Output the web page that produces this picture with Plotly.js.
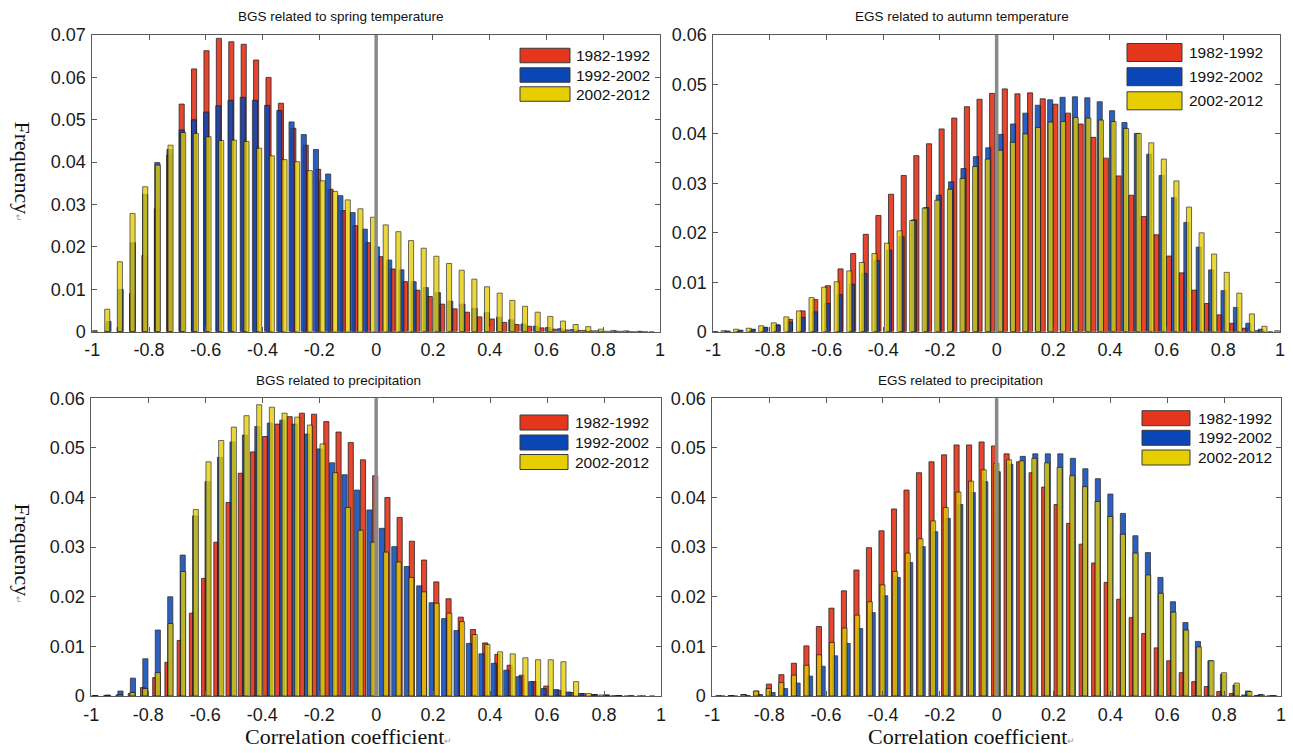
<!DOCTYPE html>
<html>
<head>
<meta charset="utf-8">
<script src="https://cdn.plot.ly/plotly-3.0.1.min.js"></script>
<style>
  html, body { margin: 0; padding: 0; background: #ffffff; }
  #chart { width: 1293px; height: 753px; }
</style>
</head>
<body>
<div id="chart"></div>
<script>
// ---- shared labels ----
const periods = ['1982-1992', '1992-2002', '2002-2012'];
const panelTitles = [
  'BGS related to spring temperature',
  'EGS related to autumn temperature',
  'BGS related to precipitation',
  'EGS related to precipitation'
];
const xTickVals = [-1, -0.8, -0.6, -0.4, -0.2, 0, 0.2, 0.4, 0.6, 0.8, 1];
const xTickText = ['-1', '-0.8', '-0.6', '-0.4', '-0.2', '0', '0.2', '0.4', '0.6', '0.8', '1'];
const yTickVals7 = [0, 0.01, 0.02, 0.03, 0.04, 0.05, 0.06, 0.07];
const yTickText7 = ['0', '0.01', '0.02', '0.03', '0.04', '0.05', '0.06', '0.07'];
const yTickVals6 = [0, 0.01, 0.02, 0.03, 0.04, 0.05, 0.06];
const yTickText6 = ['0', '0.01', '0.02', '0.03', '0.04', '0.05', '0.06'];

// ---- BGS vs spring temperature: frequency per bin, one array per period ----
const bgsSpringFirstBin = [-0.991, -0.943, -0.992];   // centre of the first bin
const bgsSpringBinWidth = [0.0437, 0.0430, 0.0446];
const bgsSpring1982 = [0, 0.0002, 0.001, 0.009, 0.018, 0.029, 0.0417, 0.0537, 0.062, 0.0663, 0.0692, 0.0684, 0.0678, 0.0641, 0.060, 0.0539, 0.048, 0.044, 0.0383, 0.0336, 0.0286, 0.025, 0.021, 0.0177, 0.0148, 0.0118, 0.0098, 0.0083, 0.0065, 0.0054, 0.0046, 0.0035, 0.003, 0.0022, 0.0017, 0.0013, 0.0009, 0.0006, 0.0004, 0.0003, 0.0002, 0.0001, 0.0001, 0, 0];
const bgsSpring1992 = [0.0024, 0.010, 0.021, 0.0324, 0.0399, 0.043, 0.0476, 0.050, 0.0518, 0.0533, 0.0546, 0.0553, 0.0546, 0.0534, 0.0522, 0.0495, 0.0465, 0.043, 0.0372, 0.0321, 0.0281, 0.0242, 0.020, 0.0169, 0.0146, 0.0118, 0.0104, 0.0092, 0.0072, 0.0065, 0.0055, 0.0045, 0.0034, 0.0028, 0.0018, 0.0013, 0.001, 0.0007, 0.0005, 0.0003, 0.0002, 0.0001, 0.0001, 0, 0];
const bgsSpring2002 = [0.0003, 0.0053, 0.0165, 0.0279, 0.0342, 0.0393, 0.044, 0.047, 0.0468, 0.046, 0.0451, 0.0452, 0.0449, 0.0433, 0.0415, 0.0406, 0.0401, 0.038, 0.0356, 0.0331, 0.0311, 0.029, 0.027, 0.0252, 0.0236, 0.0215, 0.0197, 0.0178, 0.0161, 0.0145, 0.0124, 0.0106, 0.0091, 0.0074, 0.006, 0.0046, 0.0036, 0.0025, 0.0017, 0.0012, 0.0006, 0.0003, 0.0002, 0.0001, 0];

// ---- EGS vs autumn temperature ----
const egsAutumnFirstBin = [-0.997, -0.991, -0.964];
const egsAutumnBinWidth = [0.0446, 0.0437, 0.0444];
const egsAutumn1982 = [0, 0.0001, 0.0002, 0.0004, 0.0008, 0.0014, 0.0025, 0.0042, 0.0065, 0.0093, 0.0127, 0.0158, 0.0197, 0.0235, 0.0278, 0.0316, 0.0356, 0.038, 0.041, 0.0432, 0.0455, 0.047, 0.0482, 0.0491, 0.0481, 0.0483, 0.0471, 0.046, 0.0442, 0.042, 0.0393, 0.0351, 0.0315, 0.0276, 0.0233, 0.0196, 0.0153, 0.0119, 0.0084, 0.0057, 0.0034, 0.0017, 0.0007, 0.0002, 0];
const egsAutumn1992 = [0, 0.0001, 0.0003, 0.0005, 0.0009, 0.0013, 0.0019, 0.0029, 0.004, 0.0057, 0.0075, 0.0096, 0.0118, 0.0144, 0.0165, 0.0192, 0.0226, 0.0251, 0.0276, 0.0303, 0.033, 0.0354, 0.0372, 0.0399, 0.042, 0.0442, 0.0458, 0.0469, 0.0474, 0.0475, 0.0473, 0.0465, 0.0447, 0.0423, 0.0401, 0.0359, 0.0316, 0.0271, 0.0221, 0.0171, 0.0125, 0.0083, 0.0049, 0.0017, 0.0005];
const egsAutumn2002 = [0.0002, 0.0005, 0.0007, 0.0012, 0.0018, 0.003, 0.0042, 0.0069, 0.009, 0.0101, 0.0123, 0.014, 0.0158, 0.0179, 0.0204, 0.0225, 0.025, 0.0266, 0.0288, 0.031, 0.0334, 0.0349, 0.0367, 0.0383, 0.040, 0.0413, 0.0424, 0.0425, 0.0433, 0.0432, 0.0428, 0.0425, 0.0411, 0.0401, 0.0382, 0.0349, 0.0305, 0.0252, 0.020, 0.0157, 0.012, 0.0078, 0.0036, 0.0011, 0.0002];

// ---- BGS vs precipitation ----
const bgsPrecipFirstBin = [-0.990, -0.985, -0.989];
const bgsPrecipBinWidth = [0.0429, 0.0437, 0.0445];
const bgsPrecip1982 = [0, 0.0001, 0.0002, 0.0005, 0.0017, 0.0037, 0.0068, 0.0112, 0.0167, 0.0237, 0.031, 0.039, 0.0449, 0.0492, 0.0523, 0.0548, 0.0563, 0.057, 0.0568, 0.0553, 0.0532, 0.0511, 0.0476, 0.0444, 0.040, 0.036, 0.0312, 0.0274, 0.023, 0.0196, 0.0159, 0.0134, 0.0107, 0.0084, 0.0062, 0.0042, 0.0029, 0.002, 0.0011, 0.0007, 0.0005, 0.0003, 0.0002, 0.0001, 0];
const bgsPrecip1992 = [0.0001, 0.0002, 0.001, 0.0036, 0.0075, 0.0133, 0.020, 0.0284, 0.0363, 0.0432, 0.0481, 0.0512, 0.0526, 0.0543, 0.055, 0.0556, 0.0548, 0.0528, 0.0498, 0.047, 0.0446, 0.0415, 0.0375, 0.0338, 0.0301, 0.0261, 0.0222, 0.0188, 0.0156, 0.0132, 0.0106, 0.0085, 0.0066, 0.0052, 0.0039, 0.0029, 0.0015, 0.0013, 0.0008, 0.0005, 0.0003, 0.0002, 0.0001, 0, 0];
const bgsPrecip2002 = [0, 0.0001, 0.0003, 0.0007, 0.0015, 0.0047, 0.0146, 0.0251, 0.0376, 0.0472, 0.0515, 0.0542, 0.0565, 0.0587, 0.0582, 0.057, 0.0562, 0.0546, 0.0508, 0.045, 0.038, 0.0334, 0.031, 0.029, 0.027, 0.0239, 0.021, 0.0187, 0.0167, 0.015, 0.0124, 0.0104, 0.0089, 0.0085, 0.0077, 0.0073, 0.0073, 0.0069, 0.0029, 0.0005, 0.0002, 0.0001, 0, 0, 0];

// ---- EGS vs precipitation ----
const egsPrecipFirstBin = [-0.977, -0.964, -0.980];
const egsPrecipBinWidth = [0.0440, 0.0440, 0.0445];
const egsPrecip1982 = [0, 0.0001, 0.0003, 0.001, 0.0024, 0.0043, 0.0066, 0.0101, 0.014, 0.0177, 0.0212, 0.0254, 0.0299, 0.0333, 0.0377, 0.0415, 0.045, 0.0472, 0.0486, 0.0506, 0.0506, 0.0512, 0.0504, 0.0488, 0.0472, 0.045, 0.0421, 0.0386, 0.0348, 0.0306, 0.0268, 0.0229, 0.0195, 0.0158, 0.0126, 0.0097, 0.0071, 0.0047, 0.0029, 0.0019, 0.0009, 0.0005, 0.0002, 0.0001, 0];
const egsPrecip1992 = [0, 0, 0.0001, 0.0003, 0.0007, 0.0015, 0.0026, 0.004, 0.006, 0.0081, 0.0106, 0.0136, 0.0168, 0.0202, 0.0239, 0.0269, 0.0301, 0.0331, 0.0358, 0.0386, 0.041, 0.0432, 0.0452, 0.0467, 0.0483, 0.0488, 0.0488, 0.0488, 0.0479, 0.0458, 0.0438, 0.0407, 0.0368, 0.0323, 0.0289, 0.0239, 0.019, 0.0148, 0.011, 0.0071, 0.0044, 0.0022, 0.001, 0.0003, 0.0001];
const egsPrecip2002 = [0, 0.0001, 0.0003, 0.001, 0.0015, 0.0027, 0.0042, 0.0062, 0.0083, 0.0108, 0.0137, 0.0163, 0.019, 0.0224, 0.0251, 0.0288, 0.0317, 0.0353, 0.038, 0.0411, 0.0433, 0.0456, 0.0469, 0.0476, 0.0474, 0.0479, 0.047, 0.0461, 0.0444, 0.0422, 0.0392, 0.0362, 0.0326, 0.0288, 0.0244, 0.0207, 0.0169, 0.0133, 0.0099, 0.0071, 0.0047, 0.0026, 0.0009, 0.0002, 0];

// ---- figure geometry (pixels) and styling ----
const W = 1293, H = 753;
const fx = p => p / W;          // pixel column -> paper fraction
const fy = p => 1 - p / H;      // pixel row -> paper fraction

const periodColors = ['#E4361D', '#0A46B6', '#E6CE00'];
const periodOpacity = [0.92, 0.86, 0.78];
const barWidth = 0.018;

const panels = [
  { series: [bgsSpring1982, bgsSpring1992, bgsSpring2002], first: bgsSpringFirstBin, step: bgsSpringBinWidth,
    box: { l: 92.3, r: 660, t: 35, b: 331.7 }, ymax: 0.07, yv: yTickVals7, yt: yTickText7,
    title: { x: 340.5, y: 16.5 },
    legend: { l: 520, r: 570, rows: [55.5, 75, 94], h: 14.5, tx: 574 } },
  { series: [egsAutumn1982, egsAutumn1992, egsAutumn2002], first: egsAutumnFirstBin, step: egsAutumnBinWidth,
    box: { l: 713.3, r: 1280, t: 35, b: 331.7 }, ymax: 0.06, yv: yTickVals6, yt: yTickText6,
    title: { x: 962, y: 16.5 },
    legend: { l: 1127, r: 1182, rows: [52.5, 76.7, 100.8], h: 18, tx: 1187 } },
  { series: [bgsPrecip1982, bgsPrecip1992, bgsPrecip2002], first: bgsPrecipFirstBin, step: bgsPrecipBinWidth,
    box: { l: 91.3, r: 661, t: 398.3, b: 696 }, ymax: 0.06, yv: yTickVals6, yt: yTickText6,
    title: { x: 338, y: 380 },
    legend: { l: 520, r: 568, rows: [422.5, 442.5, 462], h: 15, tx: 573 } },
  { series: [egsPrecip1982, egsPrecip1992, egsPrecip2002], first: egsPrecipFirstBin, step: egsPrecipBinWidth,
    box: { l: 712.3, r: 1281, t: 398.3, b: 696 }, ymax: 0.06, yv: yTickVals6, yt: yTickText6,
    title: { x: 960, y: 380 },
    legend: { l: 1142, r: 1190, rows: [418.2, 437.8, 457.5], h: 15, tx: 1196 } }
];

const axisColor = '#5a5a5a';
const tickFont = { family: 'Liberation Sans, Arial, sans-serif', size: 18, color: '#1a1a1a' };

const traces = [];
const layout = {
  width: W, height: H,
  margin: { l: 0, r: 0, t: 0, b: 0 },
  paper_bgcolor: '#ffffff', plot_bgcolor: '#ffffff',
  barmode: 'overlay',
  showlegend: false,
  shapes: [], annotations: []
};

panels.forEach((p, i) => {
  const sfx = i === 0 ? '' : String(i + 1);
  const xa = 'x' + sfx, ya = 'y' + sfx;

  p.series.forEach((vals, s) => {
    traces.push({
      type: 'bar', name: periods[s], xaxis: xa, yaxis: ya,
      x0: p.first[s], dx: p.step[s], y: vals, width: barWidth,
      marker: { color: periodColors[s], opacity: periodOpacity[s], line: { color: '#141414', width: 0.8 } },
      hoverinfo: 'skip'
    });
  });

  layout['xaxis' + sfx] = {
    domain: [fx(p.box.l), fx(p.box.r)], anchor: ya, range: [-1, 1],
    tickmode: 'array', tickvals: xTickVals, ticktext: xTickText,
    ticks: 'inside', ticklen: 5, tickwidth: 1, tickcolor: axisColor,
    showline: true, linecolor: axisColor, linewidth: 1, mirror: 'allticks',
    showgrid: false, zeroline: false, tickfont: tickFont, ticklabelstandoff: 2, fixedrange: true
  };
  layout['yaxis' + sfx] = {
    domain: [fy(p.box.b), fy(p.box.t)], anchor: xa, range: [0, p.ymax],
    tickmode: 'array', tickvals: p.yv, ticktext: p.yt,
    ticks: 'inside', ticklen: 5, tickwidth: 1, tickcolor: axisColor,
    showline: true, linecolor: axisColor, linewidth: 1, mirror: 'allticks',
    showgrid: false, zeroline: false, tickfont: tickFont, ticklabelstandoff: 2, fixedrange: true
  };

  // vertical reference line at r = 0
  layout.shapes.push({
    type: 'line', xref: xa, yref: ya + ' domain', x0: 0, x1: 0, y0: 0, y1: 1,
    line: { color: '#8a8a8a', width: 3.5 }, layer: 'above'
  });

  // panel title
  layout.annotations.push({
    text: panelTitles[i], xref: 'paper', yref: 'paper', x: fx(p.title.x), y: fy(p.title.y),
    xanchor: 'center', yanchor: 'middle', showarrow: false,
    font: { family: 'Liberation Sans, Arial, sans-serif', size: 13.5, color: '#111111' }
  });

  // legend: coloured swatches with period labels
  p.legend.rows.forEach((cy, s) => {
    layout.shapes.push({
      type: 'rect', xref: 'paper', yref: 'paper',
      x0: fx(p.legend.l), x1: fx(p.legend.r), y0: fy(cy + p.legend.h / 2), y1: fy(cy - p.legend.h / 2),
      fillcolor: periodColors[s], line: { color: '#3a3a3a', width: 1 }, layer: 'above'
    });
    layout.annotations.push({
      text: periods[s], xref: 'paper', yref: 'paper', x: fx(p.legend.tx), y: fy(cy),
      xanchor: 'left', yanchor: 'middle', showarrow: false,
      font: { family: 'Liberation Sans, Arial, sans-serif', size: 15.5, color: '#111111' }
    });
  });
});

// axis titles (serif, with a small return mark after the word)
const mark = '<span style="font-size:9px;color:#9a9a9a">\u21B5</span>';
const serif = { family: 'Liberation Serif, Times New Roman, serif', size: 22, color: '#111111' };
[[22.5, 172], [22.5, 554]].forEach(([x, y]) => {
  layout.annotations.push({
    text: 'Frequency' + mark, xref: 'paper', yref: 'paper', x: fx(x), y: fy(y),
    xanchor: 'center', yanchor: 'middle', textangle: 90, showarrow: false, font: serif
  });
});
[[243, 736], [866, 736]].forEach(([x, y]) => {
  layout.annotations.push({
    text: 'Correlation coefficient' + mark, xref: 'paper', yref: 'paper', x: fx(x), y: fy(y),
    xanchor: 'left', yanchor: 'middle', showarrow: false, font: serif
  });
});

Plotly.newPlot('chart', traces, layout, { staticPlot: true, displayModeBar: false });
</script>
</body>
</html>
